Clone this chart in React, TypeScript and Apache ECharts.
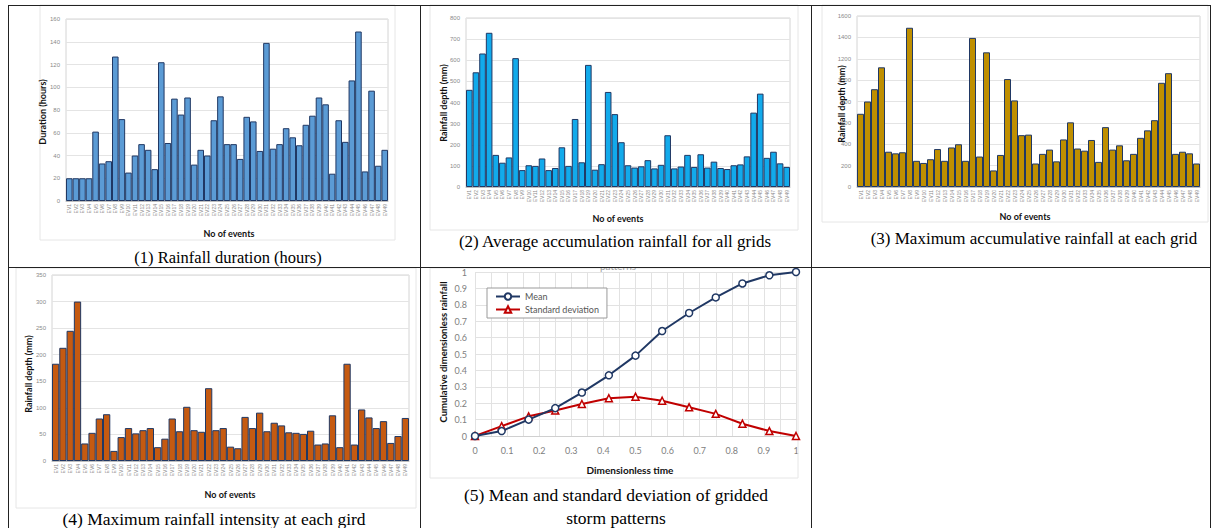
import React, { useEffect, useRef } from "react";
import * as echarts from "echarts";

// Event labels EV1 … EV49
const events: string[] = Array.from({ length: 49 }, (_, i) => `EV${i + 1}`);

// (1) Rainfall duration (hours)
const duration = [
  20, 20, 20, 20, 61, 33, 35, 127, 72, 25, 40, 50, 45, 28, 122, 51, 90, 76, 91, 32,
  45, 40, 71, 92, 50, 50, 37, 74, 70, 44, 139, 46, 50, 64, 56, 49, 67, 75, 91, 85,
  24, 71, 52, 106, 149, 26, 97, 31, 45,
];

// (2) Average accumulation rainfall for all grids (mm)
const avgRain = [
  460, 543, 632, 730, 152, 115, 140, 610, 80, 103, 100, 135, 80, 90, 188, 100, 322, 117, 578, 82,
  108, 450, 345, 212, 103, 92, 98, 127, 88, 105, 245, 88, 97, 152, 95, 155, 92, 120, 90, 85,
  103, 107, 145, 352, 442, 138, 167, 112, 95,
];

// (3) Maximum accumulative rainfall at each grid (mm)
const maxRain = [
  685, 800, 915, 1120, 330, 315, 325, 1490, 245, 225, 260, 355, 245, 370, 400, 245, 1395, 285, 1260, 155,
  300, 1010, 810, 485, 490, 220, 310, 350, 240, 445, 605, 360, 340, 440, 235, 560, 350, 390, 250, 310,
  460, 530, 625, 975, 1065, 310, 330, 315, 220,
];

// (4) Maximum rainfall intensity at each grid (mm)
const maxIntensity = [
  183, 213, 245, 300, 33, 53, 80, 88, 19, 45, 62, 52, 58, 62, 26, 42, 80, 56, 102, 58,
  55, 137, 58, 62, 27, 24, 83, 62, 91, 56, 72, 67, 54, 53, 51, 57, 31, 33, 86, 26,
  183, 31, 97, 82, 62, 75, 34, 47, 81,
];

// (5) Storm pattern curves
const timeSteps = [0, 0.083, 0.167, 0.25, 0.333, 0.417, 0.5, 0.583, 0.667, 0.75, 0.833, 0.917, 1];
const meanPattern = [0, 0.03, 0.1, 0.17, 0.265, 0.37, 0.49, 0.64, 0.75, 0.845, 0.93, 0.98, 1.0];
const stdPattern = [0, 0.06, 0.12, 0.155, 0.195, 0.23, 0.24, 0.215, 0.175, 0.135, 0.075, 0.03, 0];

const SANS = "Lato, 'Liberation Sans', sans-serif";
const SERIF = "'Liberation Serif', 'Times New Roman', serif";

type Panel = {
  rect: { left: number; top: number; width: number; height: number };
  values: number[];
  color: string;
  max: number;
  interval: number;
};

const panels: Panel[] = [
  { rect: { left: 66, top: 19, width: 322, height: 182 }, values: duration, color: "#5B9BD5", max: 160, interval: 20 },
  { rect: { left: 466, top: 18, width: 324, height: 169 }, values: avgRain, color: "#12AAEB", max: 800, interval: 100 },
  { rect: { left: 857, top: 16, width: 343, height: 171 }, values: maxRain, color: "#BF8F00", max: 1600, interval: 200 },
  { rect: { left: 52, top: 275, width: 357, height: 186 }, values: maxIntensity, color: "#C55A11", max: 350, interval: 50 },
];

const curveRect = { left: 475, top: 272, width: 321, height: 164 };

function caption(text: string, x: number, y: number, size = 17) {
  return {
    type: "text",
    x,
    y,
    z: 20,
    style: { text, align: "center", verticalAlign: "middle", font: `${size}px ${SERIF}`, fill: "#000" },
  };
}

function axisTitle(text: string, x: number, y: number, size: number, vertical = false) {
  return {
    type: "text",
    x,
    y,
    z: 20,
    rotation: vertical ? Math.PI / 2 : 0,
    style: { text, align: "center", verticalAlign: "middle", font: `bold ${size}px ${SANS}`, fill: "#111" },
  };
}

function frame(x: number, y: number, w: number, h: number) {
  return {
    type: "rect",
    z: 1,
    shape: { x, y, width: w, height: h },
    style: { fill: "none", stroke: "#e6e6e6", lineWidth: 1 },
  };
}

function rule(x1: number, y1: number, x2: number, y2: number) {
  return {
    type: "line",
    z: 30,
    shape: { x1, y1, x2, y2 },
    style: { stroke: "#222", lineWidth: 1 },
  };
}

function buildOption() {
  const grid: any[] = [];
  const xAxis: any[] = [];
  const yAxis: any[] = [];
  const series: any[] = [];

  panels.forEach((p, i) => {
    grid.push({ ...p.rect, show: true, borderColor: "#d4d4d4", borderWidth: 1, containLabel: false, outerBoundsMode: "none" });
    xAxis.push({
      type: "category",
      gridIndex: i,
      data: events,
      axisTick: { show: false },
      axisLine: { lineStyle: { color: "#bfbfbf" } },
      axisLabel: { rotate: 90, interval: 0, fontSize: 5, color: "#8a8a8a", margin: 3, fontFamily: "'Liberation Sans', sans-serif" },
    });
    yAxis.push({
      type: "value",
      gridIndex: i,
      min: 0,
      max: p.max,
      interval: p.interval,
      axisLine: { show: false },
      axisTick: { show: false },
      axisLabel: {
        fontSize: 6,
        color: "#8a8a8a",
        margin: 6,
        fontFamily: "'Liberation Sans', sans-serif",
        formatter: (v: number) => String(v),
      },
      splitLine: { lineStyle: { color: "#e4e4e4" } },
    });
    series.push({
      type: "bar",
      xAxisIndex: i,
      yAxisIndex: i,
      data: p.values,
      barCategoryGap: "0%",
      itemStyle: { color: p.color, borderColor: "#203864", borderWidth: 1 },
    });
  });

  // Curve panel
  grid.push({ ...curveRect, show: false, containLabel: false, outerBoundsMode: "none" });
  xAxis.push({
    type: "value",
    gridIndex: 4,
    min: 0,
    max: 1,
    interval: 0.1,
    axisLine: { show: true, lineStyle: { color: "#d0d0d0" } },
    axisTick: { show: false },
    axisLabel: { fontSize: 9, color: "#808080", margin: 10, fontFamily: SANS },
    splitLine: { show: true, lineStyle: { color: "#e2e2e2" } },
    minorTick: { show: false, splitNumber: 2 },
    minorSplitLine: { show: true, lineStyle: { color: "#e2e2e2" } },
  });
  yAxis.push({
    type: "value",
    gridIndex: 4,
    min: 0,
    max: 1,
    interval: 0.1,
    axisLine: { show: false },
    axisTick: { show: false },
    axisLabel: { fontSize: 9, color: "#808080", margin: 8, fontFamily: SANS },
    splitLine: { show: true, lineStyle: { color: "#e2e2e2" } },
  });
  series.push({
    type: "line",
    name: "Mean",
    xAxisIndex: 4,
    yAxisIndex: 4,
    data: timeSteps.map((t, k) => [t, meanPattern[k]]),
    symbol: "circle",
    symbolSize: 7,
    z: 5,
    lineStyle: { color: "#203864", width: 2 },
    itemStyle: { color: "#ffffff", borderColor: "#203864", borderWidth: 1.5 },
  });
  series.push({
    type: "line",
    name: "Standard deviation",
    xAxisIndex: 4,
    yAxisIndex: 4,
    data: timeSteps.map((t, k) => [t, stdPattern[k]]),
    symbol: "triangle",
    symbolSize: 7,
    z: 4,
    lineStyle: { color: "#C00000", width: 2 },
    itemStyle: { color: "#ffffff", borderColor: "#C00000", borderWidth: 1.5 },
  });

  const graphic: any[] = [
    // chart area outlines
    frame(40, 5, 355, 235),
    frame(430, 5, 368, 225),
    frame(822, 5, 386, 217),
    frame(16, 268, 400, 240),
    frame(430, 268, 368, 210),
    // chart title of panel 5, mostly hidden under the row above
    {
      type: "text",
      x: 618,
      y: 266,
      z: 2,
      style: { text: "patterns", align: "center", verticalAlign: "middle", font: `10px ${SANS}`, fill: "#a0a0a0" },
    },
    { type: "rect", z: 10, shape: { x: 585, y: 250, width: 70, height: 17.5 }, style: { fill: "#ffffff", stroke: "none" } },
    // axis titles
    axisTitle("Duration (hours)", 42, 112, 9, true),
    axisTitle("No of events", 229, 233, 9),
    axisTitle("Rainfall depth (mm)", 443, 103, 9, true),
    axisTitle("No of events", 618, 218, 9),
    axisTitle("Rainfall depth (mm)", 841, 104, 9, true),
    axisTitle("No of events", 1025, 216, 9),
    axisTitle("Rainfall depth (mm)", 28, 374, 9, true),
    axisTitle("No of events", 230, 494, 9),
    axisTitle("Cumulative dimensionless rainfall", 443, 352, 9.5, true),
    axisTitle("Dimensionless time", 630, 470, 10),
    // captions
    caption("(1) Rainfall duration (hours)", 228, 257, 16.5),
    caption("(2) Average accumulation rainfall for all grids", 615, 241),
    caption("(3) Maximum accumulative rainfall at each grid", 1034, 238),
    caption("(4) Maximum rainfall intensity at each gird", 214, 519, 17.5),
    caption("(5) Mean and standard deviation of gridded", 616, 495, 17.5),
    caption("storm patterns", 616, 518, 17.5),
    // table rules
    rule(8, 5.5, 1210, 5.5),
    rule(8, 267.5, 1210, 267.5),
    rule(8.5, 5, 8.5, 528),
    rule(420.5, 5, 420.5, 528),
    rule(811.5, 5, 811.5, 528),
    rule(1210.5, 5, 1210.5, 528),
  ];

  return {
    animation: false,
    backgroundColor: "#ffffff",
    grid,
    xAxis,
    yAxis,
    series,
    legend: {
      data: ["Mean", "Standard deviation"],
      orient: "vertical",
      left: 487,
      top: 288,
      padding: [4, 8, 4, 8],
      itemGap: 4,
      itemWidth: 24,
      itemHeight: 8,
      borderColor: "#9a9a9a",
      borderWidth: 1,
      backgroundColor: "#fff",
      textStyle: { fontSize: 9, color: "#555", fontFamily: SANS },
    },
    graphic,
  };
}

export default function App() {
  const ref = useRef<HTMLDivElement>(null);
  useEffect(() => {
    if (!ref.current) return;
    const chart = echarts.init(ref.current, undefined, { renderer: "svg" });
    chart.setOption(buildOption() as any);
    return () => chart.dispose();
  }, []);
  return (
    <div
      ref={ref}
      style={{ position: "absolute", left: 0, top: 0, width: 1219, height: 528, background: "#fff" }}
    />
  );
}
